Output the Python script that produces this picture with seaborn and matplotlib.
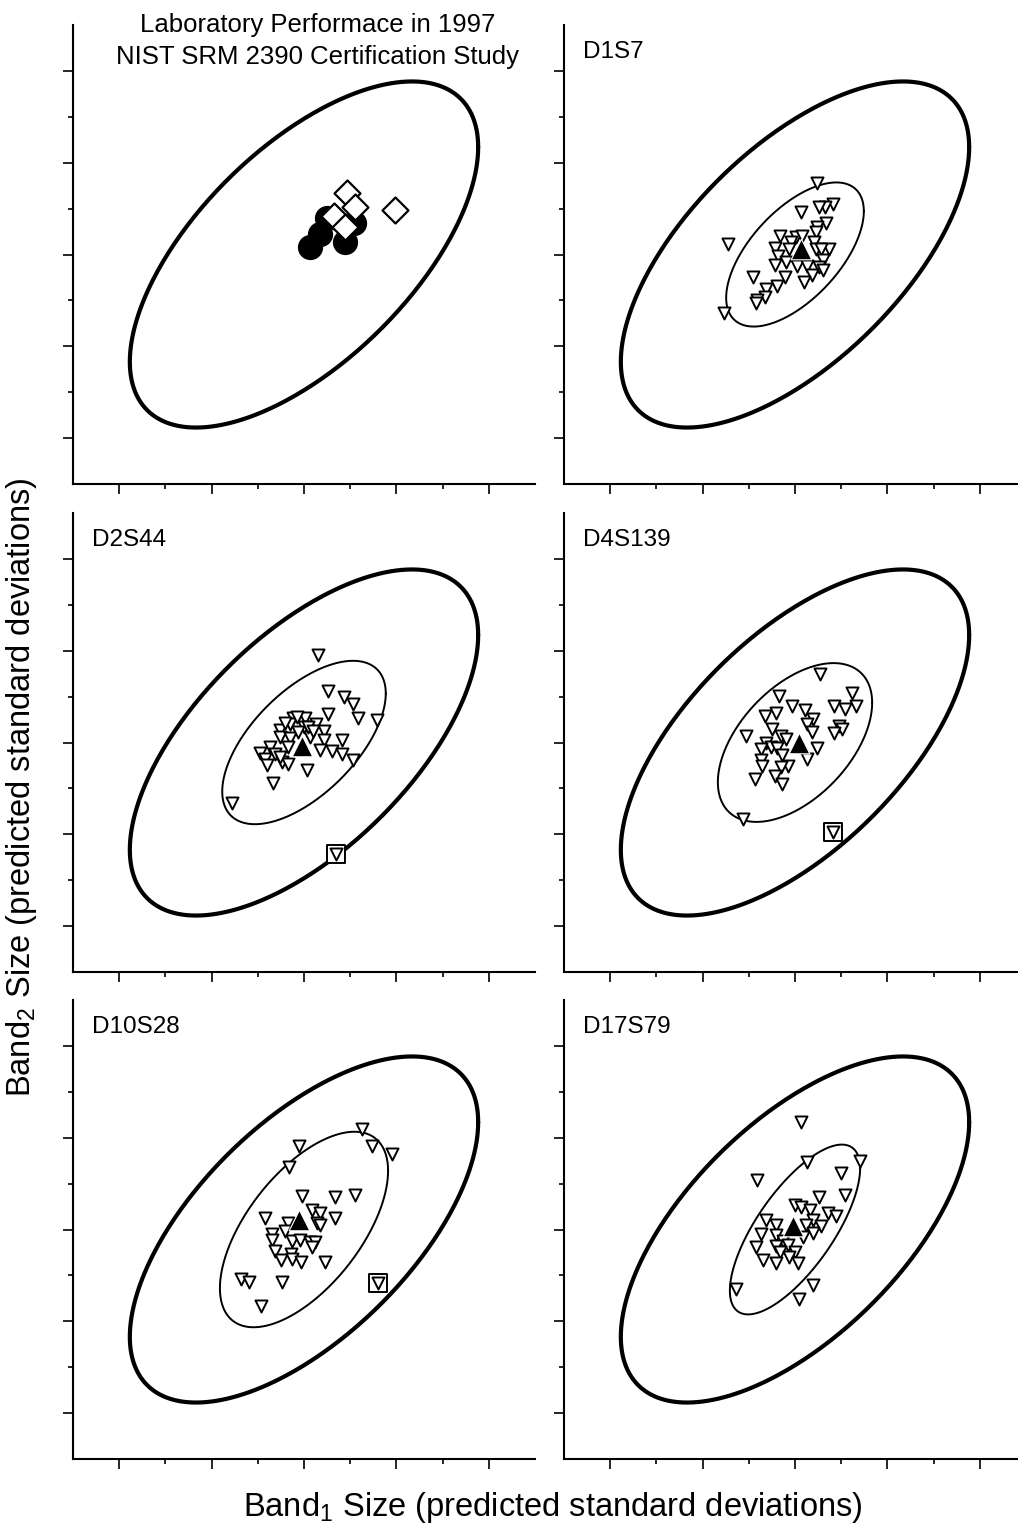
import numpy as np
import matplotlib
matplotlib.use("Agg")
import matplotlib.pyplot as plt
import seaborn as sns
from matplotlib.ticker import NullFormatter

# Summary panel: lab results (filled circles and open diamonds)
LAB_CIRCLE_X = [0.12, 0.34, 0.50, 0.88, 1.08]
LAB_CIRCLE_Y = [0.17, 0.44, 0.80, 0.27, 0.68]
LAB_DIAMOND_X = [0.92, 1.11, 1.98, 0.65, 0.88]
LAB_DIAMOND_Y = [1.33, 1.04, 0.96, 0.84, 0.60]

# Per-locus panels
D1S7_X = [0.48, 0.82, 0.65, 0.52, 0.13, 0.67, 0.48, 0.45, -1.45, -0.32, 0.02, 0.15, -0.09,
          0.41, -0.43, 0.45, 0.74, 0.56, -0.37, 0.61, -0.43, -0.19, 0.04, 0.26, 0.52, 0.61,
          0.37, -0.22, -0.91, 0.19, -0.39, -0.63, -0.65, -0.82, -0.84, -1.54, -0.13]
D1S7_Y = [1.55, 1.11, 1.03, 1.03, 0.92, 0.68, 0.61, 0.48, 0.22, 0.41, 0.39, 0.41, 0.28,
          0.28, 0.15, 0.13, 0.13, 0.11, -0.04, -0.11, -0.22, -0.17, -0.24, -0.24, -0.28, -0.33,
          -0.44, -0.48, -0.48, -0.61, -0.68, -0.76, -0.92, -1.00, -1.05, -1.27, 0.11]

D2S44_X = [0.31, 0.53, 0.87, 1.07, 1.16, 1.57, 0.53, -0.23, 0.02, -0.30, 0.27, -0.52, -0.01,
           0.43, -0.53, -0.30, 0.13, 0.82, 0.43, -0.34, -0.74, 0.35, 0.60, 0.82, -0.95, -0.63,
           -0.84, -0.81, -0.48, -0.34, 1.07, 0.06, -0.68, -1.56, -0.16, 0.09, -0.41, -0.14,
           0.20, -0.52]
D2S44_Y = [1.91, 1.12, 0.99, 0.83, 0.54, 0.49, 0.62, 0.54, 0.54, 0.41, 0.41, 0.28, 0.33,
           0.26, 0.12, 0.10, 0.12, 0.06, 0.06, -0.10, -0.10, -0.17, -0.19, -0.26, -0.23, -0.26,
           -0.35, -0.50, -0.43, -0.46, -0.38, -0.61, -0.88, -1.32, 0.55, 0.33, 0.42, 0.23,
           0.26, -0.32]

D4S139_X = [0.54, 1.23, -0.35, -0.06, 0.84, 1.32, 1.08, 0.22, -0.65, -0.41, 0.39, 0.26, 0.95,
            1.02, 0.84, -0.50, -1.06, -0.30, 0.37, -0.20, -0.63, -0.52, -0.39, -0.74, 0.48,
            -0.28, 0.26, -0.74, -0.71, -0.15, -0.30, -0.43, -0.87, -0.28, -1.13]
D4S139_Y = [1.50, 1.07, 1.02, 0.80, 0.80, 0.80, 0.72, 0.70, 0.57, 0.65, 0.52, 0.41, 0.35,
            0.30, 0.20, 0.30, 0.15, 0.15, 0.22, 0.07, -0.02, -0.09, -0.11, -0.15, -0.13,
            -0.28, -0.37, -0.39, -0.52, -0.52, -0.54, -0.72, -0.80, -0.91, -1.67]

D10S28_X = [1.26, 1.47, 1.90, -0.11, -0.32, -0.04, 0.67, 1.10, -0.84, 0.17, 0.35, 0.67, 0.28,
            0.35, -0.35, -0.41, -0.69, -0.69, -0.26, -0.09, 0.13, 0.24, 0.17, -0.63, -0.28,
            -0.50, -0.26, -0.06, 0.45, -1.36, -1.19, -0.48, -0.93]
D10S28_Y = [2.20, 1.83, 1.65, 1.83, 1.37, 0.72, 0.70, 0.76, 0.24, 0.43, 0.35, 0.24, 0.15,
            0.09, 0.15, -0.04, -0.09, -0.22, -0.24, -0.22, -0.28, -0.28, -0.39, -0.46, -0.54,
            -0.67, -0.65, -0.70, -0.70, -1.07, -1.15, -1.15, -1.67]

D17S79_X = [0.13, 0.26, 1.41, 1.00, -0.82, 1.08, 0.52, 0.00, 0.13, 0.32, 0.71, 0.89, -0.63,
            0.39, -0.41, 0.24, 0.56, -0.74, -0.41, -0.26, 0.17, 0.39, -0.84, -0.41, -0.15,
            -0.32, 0.00, -0.69, -0.41, -0.13, 0.06, 0.39, -1.28, 0.09]
D17S79_Y = [2.35, 1.48, 1.50, 1.24, 1.07, 0.76, 0.70, 0.54, 0.48, 0.43, 0.37, 0.30, 0.20,
            0.20, 0.09, 0.09, 0.07, -0.09, -0.13, -0.24, -0.17, -0.07, -0.39, -0.35, -0.33,
            -0.50, -0.50, -0.67, -0.74, -0.61, -0.74, -1.20, -1.30, -1.52]

PANELS = ["D1S7", "D2S44", "D4S139", "D10S28", "D17S79"]
PANEL_X = [D1S7_X, D2S44_X, D4S139_X, D10S28_X, D17S79_X]
PANEL_Y = [D1S7_Y, D2S44_Y, D4S139_Y, D10S28_Y, D17S79_Y]
MEAN_X = [0.13, -0.05, 0.09, -0.11, -0.04]
MEAN_Y = [0.11, -0.07, 0.00, 0.20, 0.07]
OUTLIER_X = [None, 0.69, 0.82, 1.60, None]
OUTLIER_Y = [None, -2.42, -1.96, -1.17, None]

# Ellipse half-extents (x, y) and correlation
OUTER_A, OUTER_B, OUTER_RHO = 3.77, 3.77, 0.62
INNER_A = [1.49, 1.77, 1.67, 1.82, 1.41]
INNER_B = [1.57, 1.78, 1.73, 2.13, 1.85]
INNER_RHO = [0.60, 0.60, 0.50, 0.60, 0.72]

MAJOR_TICKS = [-4, -2, 0, 2, 4]
MINOR_TICKS = [-3, -1, 1, 3]

TITLE = "Laboratory Performace in 1997\nNIST SRM 2390 Certification Study"
XLABEL = r"Band$_\mathregular{1}$ Size (predicted standard deviations)"
YLABEL = r"Band$_\mathregular{2}$ Size (predicted standard deviations)"

sns.set_style("ticks")
plt.rcParams["font.family"] = ["Liberation Sans", "DejaVu Sans"]
plt.rcParams["text.color"] = "black"

W, H = 1018, 1523
fig = plt.figure(figsize=(W / 100, H / 100), dpi=100)

# axes boxes in pixels
COL_LEFT = [73, 564]
ROW_TOP = [25, 513, 1000]
BOX_W, BOX_H = 462, 459


def make_axes(row, col):
    l = COL_LEFT[col]
    t = ROW_TOP[row]
    ax = fig.add_axes([l / W, 1 - (t + BOX_H) / H, BOX_W / W, BOX_H / H])
    ax.set_xlim(-5, 5)
    ax.set_ylim(-5, 5)
    ax.set_xticks(MAJOR_TICKS)
    ax.set_yticks(MAJOR_TICKS)
    ax.set_xticks(MINOR_TICKS, minor=True)
    ax.set_yticks(MINOR_TICKS, minor=True)
    ax.xaxis.set_major_formatter(NullFormatter())
    ax.yaxis.set_major_formatter(NullFormatter())
    ax.tick_params(which="major", direction="out", length=7, width=1.2, color="black")
    ax.tick_params(which="minor", direction="out", length=3.5, width=1.2, color="black")
    sns.despine(ax=ax)
    for s in ["left", "bottom"]:
        ax.spines[s].set_linewidth(1.5)
        ax.spines[s].set_color("black")
    ax.set_facecolor("none")
    return ax


def draw_ellipse(ax, a, b, rho, lw):
    t = np.linspace(0, 2 * np.pi, 361)
    ex = a * np.cos(t)
    ey = b * (rho * np.cos(t) + np.sqrt(1 - rho ** 2) * np.sin(t))
    sns.lineplot(x=ex, y=ey, sort=False, estimator=None, color="black",
                 linewidth=lw, ax=ax)


def panel_label(ax, text):
    ax.annotate(text, xy=(0, 1), xycoords="axes fraction", xytext=(14, -24),
                textcoords="offset points", ha="left", va="baseline", fontsize=17.5)


# summary panel
ax0 = make_axes(0, 0)
draw_ellipse(ax0, OUTER_A, OUTER_B, OUTER_RHO, 3.0)
sns.scatterplot(x=LAB_CIRCLE_X, y=LAB_CIRCLE_Y, marker="o", s=330, color="black",
                edgecolor="black", linewidth=0, ax=ax0, zorder=3)
sns.scatterplot(x=LAB_DIAMOND_X, y=LAB_DIAMOND_Y, marker="D", s=175, color="white",
                edgecolor="black", linewidth=1.6, ax=ax0, zorder=4)
fig.text(318 / W, 1 - 13 / H, TITLE, ha="center", va="top", fontsize=18.5,
         linespacing=1.4)

slots = [(0, 1), (1, 0), (1, 1), (2, 0), (2, 1)]
for i, (r, c) in enumerate(slots):
    ax = make_axes(r, c)
    draw_ellipse(ax, OUTER_A, OUTER_B, OUTER_RHO, 3.0)
    draw_ellipse(ax, INNER_A[i], INNER_B[i], INNER_RHO[i], 1.4)
    sns.scatterplot(x=PANEL_X[i], y=PANEL_Y[i], marker="v", s=75, color="white",
                    edgecolor="black", linewidth=1.4, ax=ax, zorder=3)
    if OUTLIER_X[i] is not None:
        sns.scatterplot(x=[OUTLIER_X[i]], y=[OUTLIER_Y[i]], marker="s", s=160,
                        color="white", edgecolor="black", linewidth=1.4, ax=ax, zorder=3)
        sns.scatterplot(x=[OUTLIER_X[i]], y=[OUTLIER_Y[i]], marker="v", s=75,
                        color="white", edgecolor="black", linewidth=1.4, ax=ax, zorder=4)
    sns.scatterplot(x=[MEAN_X[i]], y=[MEAN_Y[i]], marker="^", s=220, color="black",
                    edgecolor="white", linewidth=0.8, ax=ax, zorder=5)
    panel_label(ax, PANELS[i])

fig.text(553 / W, 1 - 1516 / H, XLABEL, ha="center", va="baseline", fontsize=23.5)
fig.text(22 / W, 1 - 787 / H, YLABEL, ha="center", va="center", rotation=90,
         fontsize=23.5)

fig.savefig("out.png", dpi=100, facecolor="white")
